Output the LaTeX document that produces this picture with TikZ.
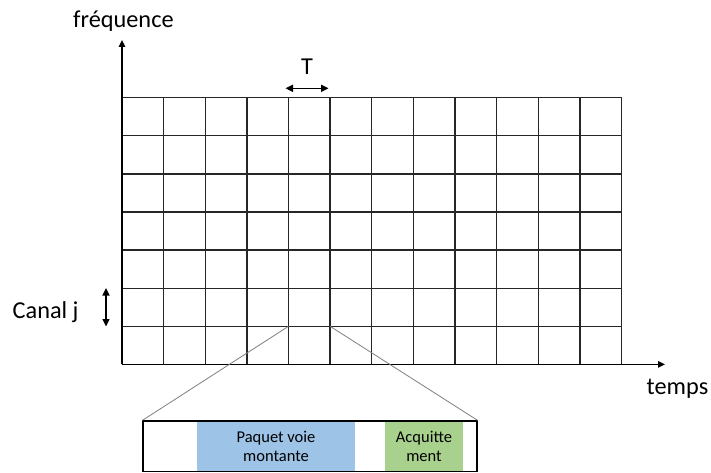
\documentclass[tikz,border=0pt]{standalone}
\usepackage{fontspec}
\setmainfont{Carlito}
\usetikzlibrary{arrows.meta}
\definecolor{paqblue}{HTML}{9DC3E6}
\definecolor{ackgreen}{HTML}{A9D18E}
\definecolor{zoomgray}{HTML}{7F7F7F}
\begin{document}
\begin{tikzpicture}[x=1pt,y=-1pt,
  gridline/.style={line width=1.3pt,black!85},
  axis/.style={line width=1.3pt,-{Triangle[length=7pt,width=6.5pt]}},
  dblarrow/.style={line width=1.5pt,{Triangle[length=7.5pt,width=7pt]}-{Triangle[length=7.5pt,width=7pt]}},
  biglabel/.style={inner sep=0pt,font=\fontsize{24.3}{29}\selectfont},
  boxlabel/.style={inner sep=0pt,align=center,font=\fontsize{16.5}{19}\selectfont},
  zoomline/.style={line width=0.8pt,zoomgray}]
\useasboundingbox (0,0) rectangle (711,473);
% grid
\def\gx{122}\def\gy{97.7}\def\cw{41.625}\def\rh{38.1}
\foreach \i in {0,...,12}{
  \draw[gridline] ({\gx+\i*\cw},\gy) -- ({\gx+\i*\cw},{\gy+7*\rh});
}
\foreach \j in {0,...,7}{
  \draw[gridline] (\gx,{\gy+\j*\rh}) -- ({\gx+12*\cw},{\gy+\j*\rh});
}
% axes
\coordinate (origin) at (\gx,{\gy+7*\rh});
\coordinate (ytip) at (\gx,40);
\coordinate (xtip) at (665,{\gy+7*\rh});
\draw[axis] (origin) -- (ytip);
\draw[axis] (origin) -- (xtip);
\node[biglabel,anchor=base west] (freq) at (73,28) {fréquence};
\node[biglabel,anchor=base west] (temps) at (646.5,394) {temps};
% T arrow
\coordinate (tl) at (285.5,88.3);
\coordinate (tr) at (328.5,88.3);
\draw[dblarrow] (tl) -- (tr);
\node[biglabel,anchor=base] (T) at (307,75) {T};
% canal j
\coordinate (ct) at (106,288);
\coordinate (cb) at (106,326.5);
\draw[dblarrow] (ct) -- (cb);
\node[biglabel,anchor=base west] (canal) at (12.5,318) {Canal j};
% zoom box
\node[fill=paqblue,inner sep=0pt,minimum width=158.6pt,minimum height=49pt] (paq) at (276,446.3) {};
\node[fill=ackgreen,inner sep=0pt,minimum width=78.6pt,minimum height=49pt] (ack) at (424,446.3) {};
\node[draw,line width=1.3pt,inner sep=0pt,minimum width=334pt,minimum height=50.5pt] (zbox) at (310,446.3) {};
\node[boxlabel] (paqtxt) at (276,446) {Paquet voie\\montante};
\node[boxlabel] (acktxt) at (424,446) {Acquitte\\ment};
\coordinate (cellL) at ({\gx+4*\cw},{\gy+6*\rh});
\coordinate (cellR) at ({\gx+5*\cw},{\gy+6*\rh});
\draw[zoomline] (cellL) -- (zbox.north west);
\draw[zoomline] (cellR) -- (zbox.north east);
\end{tikzpicture}
\end{document}
